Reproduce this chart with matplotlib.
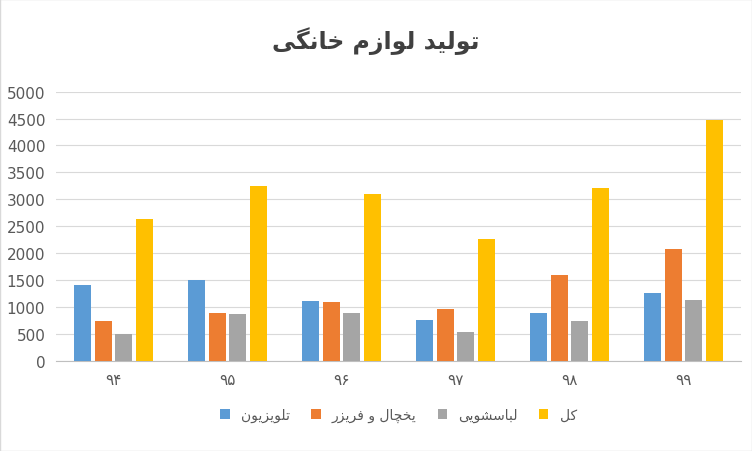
import matplotlib.pyplot as plt
import numpy as np

plt.rcParams['font.family'] = ['DejaVu Sans', 'Noto Sans']

years = ["۹۴", "۹۵", "۹۶", "۹۷", "۹۸", "۹۹"]
tv = [1400, 1490, 1110, 760, 880, 1260]
fridge = [730, 880, 1090, 960, 1590, 2080]
washer = [500, 860, 880, 540, 730, 1130]
total = [2630, 3240, 3100, 2270, 3200, 4470]

title = "تولید لوازم خانگی"
names = ["تلویزیون", "یخچال و فریزر", "لباسشویی", "کل"]
colors = ["#5B9BD5", "#ED7D31", "#A5A5A5", "#FFC000"]

# minimal Persian shaping: (isolated, final, initial, medial)
FORMS = {
    'ا': (0xFE8D, 0xFE8E, None, None), 'د': (0xFEA9, 0xFEAA, None, None),
    'ز': (0xFEAF, 0xFEB0, None, None), 'ر': (0xFEAD, 0xFEAE, None, None),
    'و': (0xFEED, 0xFEEE, None, None),
    'ب': (0xFE8F, 0xFE90, 0xFE91, 0xFE92), 'ت': (0xFE95, 0xFE96, 0xFE97, 0xFE98),
    'خ': (0xFEA5, 0xFEA6, 0xFEA7, 0xFEA8), 'س': (0xFEB1, 0xFEB2, 0xFEB3, 0xFEB4),
    'ش': (0xFEB5, 0xFEB6, 0xFEB7, 0xFEB8), 'ف': (0xFED1, 0xFED2, 0xFED3, 0xFED4),
    'ک': (0xFB8E, 0xFB8F, 0xFB90, 0xFB91), 'گ': (0xFB92, 0xFB93, 0xFB94, 0xFB95),
    'ل': (0xFEDD, 0xFEDE, 0xFEDF, 0xFEE0), 'م': (0xFEE1, 0xFEE2, 0xFEE3, 0xFEE4),
    'ن': (0xFEE5, 0xFEE6, 0xFEE7, 0xFEE8), 'ی': (0xFBFC, 0xFBFD, 0xFBFE, 0xFBFF),
    'چ': (0xFB7A, 0xFB7B, 0xFB7C, 0xFB7D),
}


def shape(s):
    out = []
    for i, c in enumerate(s):
        if c not in FORMS:
            out.append(c)
            continue
        prev = s[i - 1] if i > 0 else ''
        nxt = s[i + 1] if i + 1 < len(s) else ''
        jp = prev in FORMS and FORMS[prev][2] is not None
        jn = FORMS[c][2] is not None and nxt in FORMS
        f = FORMS[c]
        if jp and jn:
            cp = f[3]
        elif jp:
            cp = f[1]
        elif jn:
            cp = f[2]
        else:
            cp = f[0]
        out.append(chr(cp))
    return ''.join(out)[::-1]


fig, ax = plt.subplots(figsize=(7.52, 4.52), dpi=100)
fig.subplots_adjust(left=0.075, right=0.985, top=0.795, bottom=0.2)

x = np.arange(len(years))
w = 0.18
for k, (vals, name, col) in enumerate(zip([tv, fridge, washer, total], names, colors)):
    ax.bar(x + (k - 1.5) * w, vals, w * 0.83, color=col, label=shape(name), zorder=3)

ax.set_ylim(0, 5000)
ax.set_yticks(range(0, 5001, 500))
ax.set_xticks(x)
ax.set_xticklabels(years)
ax.set_xlim(-0.5, len(years) - 0.5)
ax.grid(axis='y', color='#D9D9D9', linewidth=0.8, zorder=0)
for sp in ['top', 'right', 'left']:
    ax.spines[sp].set_visible(False)
ax.spines['bottom'].set_color('#BFBFBF')
ax.tick_params(length=0, labelsize=11, colors='#595959', pad=8)

fig.suptitle(shape(title), fontsize=17, fontweight='bold', color='#404040', y=0.94)
ax.legend(loc='upper center', bbox_to_anchor=(0.5, -0.13), ncol=4, frameon=False,
          fontsize=10, handlelength=0.7, handleheight=0.7, columnspacing=1.5,
          labelcolor='#595959')

fig.patches.append(plt.Rectangle((0, 0), 1, 1, transform=fig.transFigure,
                                 fill=False, edgecolor='#D9D9D9', linewidth=1))
fig.savefig("out.png", dpi=100)
